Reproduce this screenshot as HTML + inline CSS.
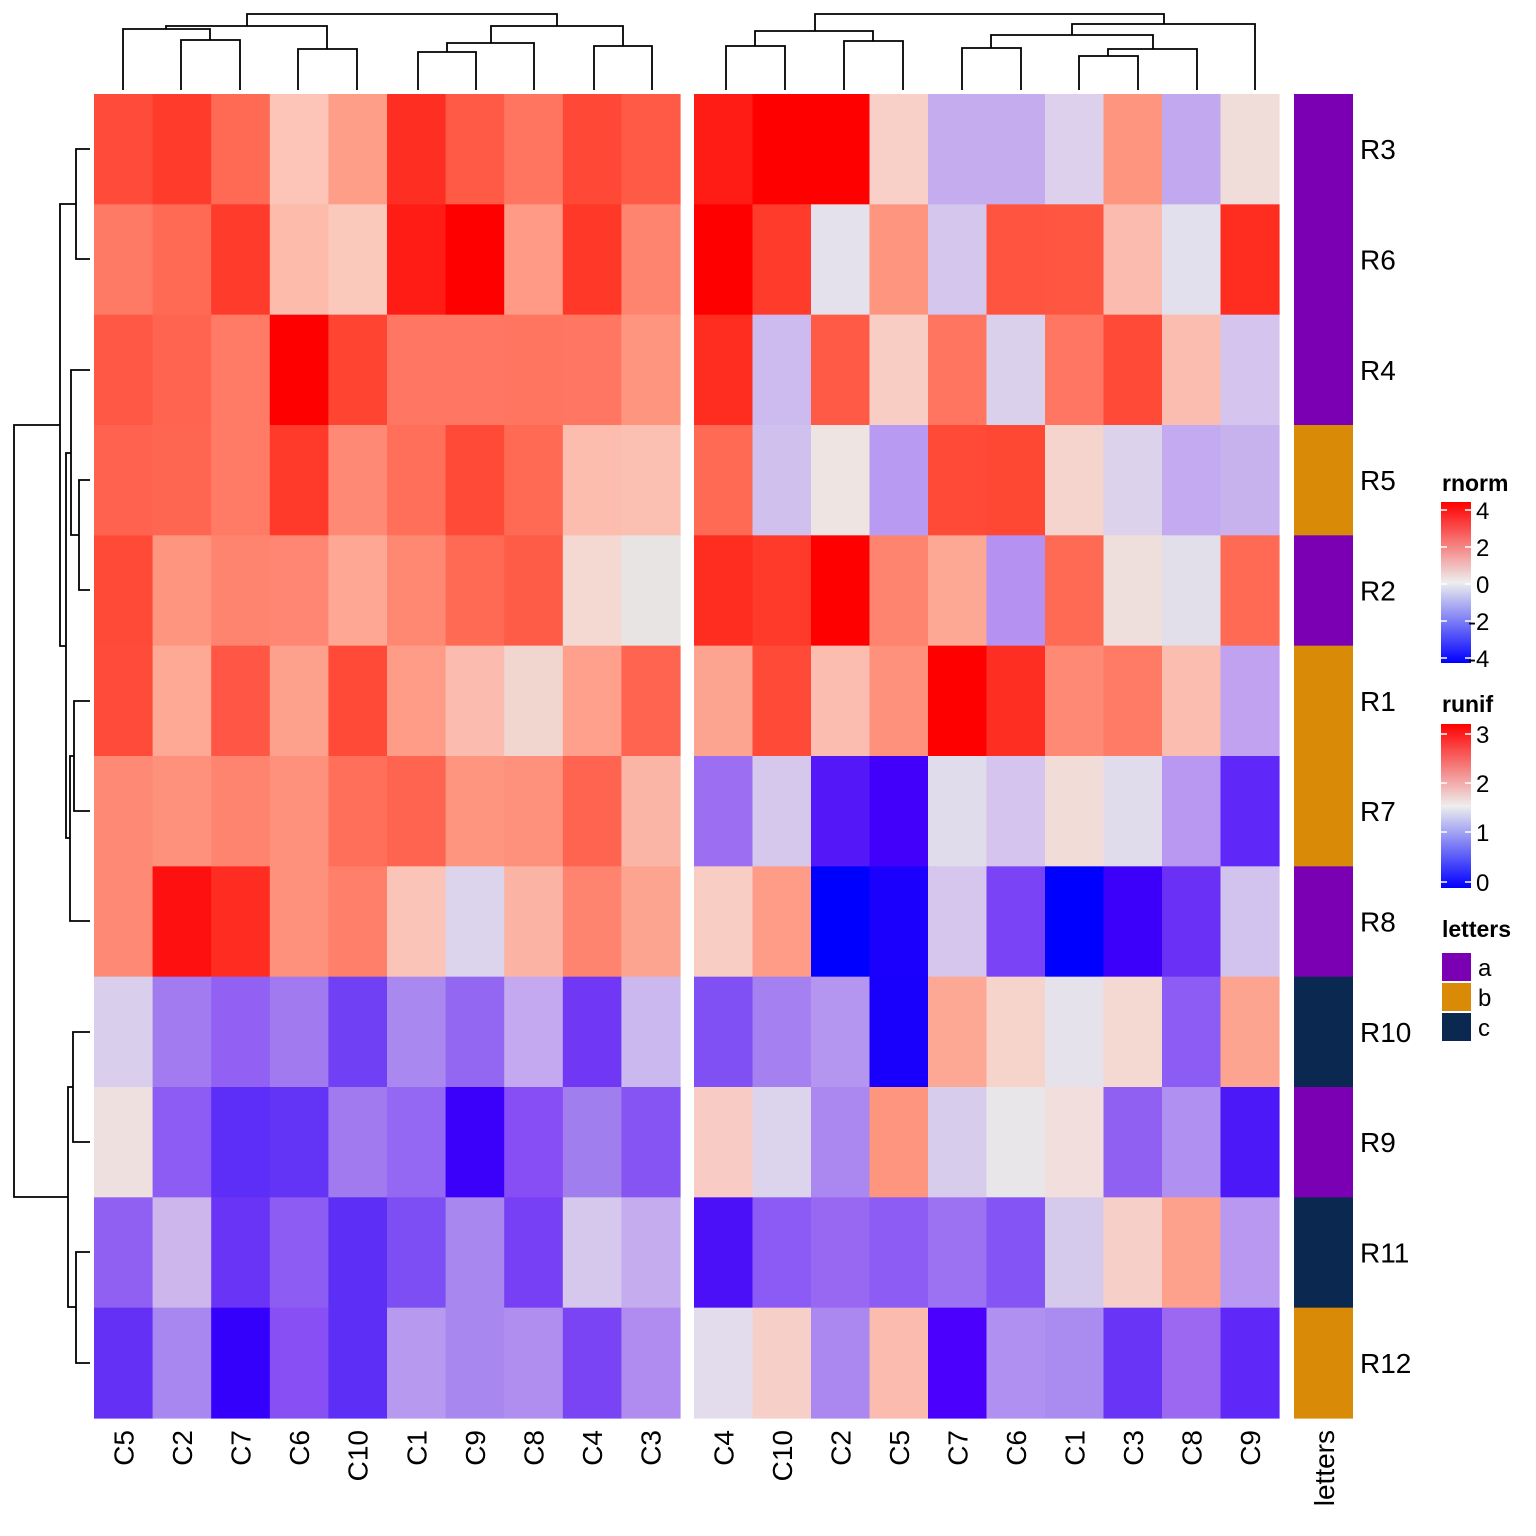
<!DOCTYPE html>
<html><head><meta charset="utf-8"><style>
body{margin:0;background:#fff}
svg{display:block;font-family:"Liberation Sans",Arial,sans-serif}
</style></head><body>
<svg id="s" width="1536" height="1536" viewBox="0 0 1536 1536" xmlns="http://www.w3.org/2000/svg">
<defs>
<linearGradient id="g1" x1="0" y1="0" x2="0" y2="1">
<stop offset="0" stop-color="#FF0000"/><stop offset="0.5" stop-color="#EEEEEE"/><stop offset="1" stop-color="#0000FF"/>
</linearGradient>
<linearGradient id="g2" x1="0" y1="0" x2="0" y2="1">
<stop offset="0" stop-color="#FF0000"/><stop offset="0.5" stop-color="#EEEEEE"/><stop offset="1" stop-color="#0000FF"/>
</linearGradient>
</defs>
<g id="cells"></g>
<g id="dend" stroke="#000" stroke-width="1.8" fill="none"></g>
<g id="txt" font-size="28" fill="#000"></g>
<text x="1442" y="491" font-size="23" font-weight="bold">rnorm</text>
<rect x="1441" y="502" width="30" height="161" fill="url(#g1)"/>
<g stroke="#fff" stroke-width="1.5">
<line x1="1441" y1="510" x2="1447" y2="510"/><line x1="1465" y1="510" x2="1471" y2="510"/>
<line x1="1441" y1="547" x2="1447" y2="547"/><line x1="1465" y1="547" x2="1471" y2="547"/>
<line x1="1441" y1="584" x2="1447" y2="584"/><line x1="1465" y1="584" x2="1471" y2="584"/>
<line x1="1441" y1="621" x2="1447" y2="621"/><line x1="1465" y1="621" x2="1471" y2="621"/>
<line x1="1441" y1="658" x2="1447" y2="658"/><line x1="1465" y1="658" x2="1471" y2="658"/>
</g>
<g font-size="24">
<text x="1476" y="519">4</text><text x="1476" y="556">2</text><text x="1476" y="593">0</text><text x="1468" y="630">-2</text><text x="1468" y="667">-4</text>
</g>
<text x="1442" y="712" font-size="23" font-weight="bold">runif</text>
<rect x="1441" y="724" width="30" height="164" fill="url(#g2)"/>
<g stroke="#fff" stroke-width="1.5">
<line x1="1441" y1="734" x2="1447" y2="734"/><line x1="1465" y1="734" x2="1471" y2="734"/>
<line x1="1441" y1="783" x2="1447" y2="783"/><line x1="1465" y1="783" x2="1471" y2="783"/>
<line x1="1441" y1="832" x2="1447" y2="832"/><line x1="1465" y1="832" x2="1471" y2="832"/>
<line x1="1441" y1="882" x2="1447" y2="882"/><line x1="1465" y1="882" x2="1471" y2="882"/>
</g>
<g font-size="24">
<text x="1476" y="743">3</text><text x="1476" y="792">2</text><text x="1476" y="841">1</text><text x="1476" y="891">0</text>
</g>
<text x="1442" y="937" font-size="23" font-weight="bold">letters</text>
<rect x="1442" y="953" width="29" height="28" fill="#7B00B4"/>
<rect x="1442" y="983" width="29" height="28" fill="#D98A07"/>
<rect x="1442" y="1013" width="29" height="28" fill="#0A2850"/>
<g font-size="24"><text x="1478" y="976">a</text><text x="1478" y="1006">b</text><text x="1478" y="1036">c</text></g>
</svg>
<script>
var L=[
"#FF4B3A #FF3B2C #FF6A55 #FDC4B8 #FE9D88 #FF2E22 #FF5A45 #FF7560 #FF4835 #FF5A45",
"#FF7A65 #FF6A55 #FF3B2C #FDBBAC #FBC8BC #FF1C14 #FF0000 #FE9A85 #FF3828 #FF8470",
"#FF5945 #FF6450 #FF7B66 #FF0000 #FF4532 #FF7762 #FF7762 #FF7560 #FF7762 #FE957F",
"#FF6350 #FF6652 #FF7B66 #FF3A2A #FE8A75 #FF6F5A #FF4A38 #FF6A55 #FCBCAE #FBC0B2",
"#FF4A38 #FE957F #FF8470 #FF8672 #FDA794 #FF8872 #FF6A55 #FF5C48 #F4D8D2 #E8E4E4",
"#FF4C3A #FDA996 #FF5645 #FDA08C #FF4A38 #FE9C88 #FBBBAE #F1D6D0 #FEA08C #FF6450",
"#FE8A76 #FE917C #FF8470 #FE917C #FF6F5A #FF6450 #FE957F #FE917C #FF6450 #FBB5A6",
"#FE8A76 #FF1010 #FF2C22 #FE917C #FF7F6A #FBC4B8 #DCD4EC #FBB3A4 #FF8470 #FDA490",
"#D9CFEC #A37BF0 #9260F2 #A07AEE #7040F4 #A988F0 #9467F2 #C4A8F0 #7038F4 #CBB8EE",
"#EEE0DE #8D5CF4 #5C2EF8 #6434F6 #A07AEE #9468F2 #3A00FA #864EF4 #A07EEE #8754F4",
"#9060F2 #CCB6EC #6A34F6 #8D5CF2 #5C2EF6 #7D4EF4 #A888EE #7840F4 #D6C8EC #C4ACEE",
"#6430F6 #A888F0 #3400FC #8850F4 #5C2EF6 #B79AF0 #A888EE #B08EF0 #7A44F4 #B08CF0"];
var R=[
"#FF1C14 #FF0000 #FF0000 #F8D0C8 #C4ACEE #C4ACEE #DCD0EC #FE957F #C2A8EE #F0DCD8",
"#FF0000 #FF3C2C #E4E0EC #FE957F #D4C6EC #FF5440 #FF5642 #FBBBAE #E2E0EC #FF2C20",
"#FF2C20 #CDBAEE #FF5A45 #F8CEC4 #FF7560 #DAD0EC #FF7762 #FF4A38 #FBBDB0 #D4C4EE",
"#FF6A55 #CFC0EE #EEE4E2 #B99AF2 #FF4A38 #FF4834 #F4D4CC #DCD2EC #C4AAF0 #C8B2EE",
"#FF2C20 #FF3A2A #FF0000 #FF8470 #FDA894 #B591F2 #FF6A55 #EEDEDC #E2DEEA #FF6A55",
"#FDA490 #FF4A38 #FBBDB0 #FE917C #FF0000 #FF2E22 #FE8A76 #FF7B66 #FBBDB0 #C0A2F0",
"#9C6EF2 #D6C8EC #5418F8 #4200FA #E0DCEC #D4C4EE #F2DCD8 #E0DCEC #B898F0 #6028F8",
"#F8CEC4 #FE9C88 #0000FF #1A00FC #D6C6EE #7A44F6 #0000FF #3C00FA #6A30F6 #D2C2EE",
"#8050F4 #A480F0 #B496F0 #1800FC #FDA894 #F6D4CC #E6E2EC #F4D8D2 #8C5CF4 #FDA490",
"#F8CCC4 #DCD4EC #AA88F0 #FE957F #D8CCEC #E8E6E8 #F2DEDC #9060F2 #B090F0 #4C18F8",
"#4C10F8 #8C5AF4 #9868F2 #8C5CF4 #9C72F2 #8454F4 #D6CAEC #F6D0C8 #FDA08C #B898F0",
"#E2DCEC #F6D0C8 #AA88F0 #FBBBAE #4A00FC #B090F0 #AA8CF0 #6A34F6 #9C68F2 #6028F8"];
var ann=["a","a","a","b","a","b","b","a","c","a","c","b"],ac={a:"#7B00B4",b:"#D98A07",c:"#0A2850"};
var rows=["R3","R6","R4","R5","R2","R1","R7","R8","R10","R9","R11","R12"];
var lc=["C5","C2","C7","C6","C10","C1","C9","C8","C4","C3"],rc=["C4","C10","C2","C5","C7","C6","C1","C3","C8","C9"];
var y0=94,h=(1418-94)/12,lx=94,lw=(680-94)/10,rx=694,rw=(1279-694)/10;
var s="",t="";
for(var i=0;i<12;i++){var y=y0+i*h;var a=L[i].split(" "),b=R[i].split(" ");
for(var j=0;j<10;j++){s+='<rect x="'+(lx+j*lw)+'" y="'+y+'" width="'+(lw+0.6)+'" height="'+(h+0.6)+'" fill="'+a[j]+'"/>';
s+='<rect x="'+(rx+j*rw)+'" y="'+y+'" width="'+(rw+0.6)+'" height="'+(h+0.6)+'" fill="'+b[j]+'"/>';}
s+='<rect x="1294" y="'+y+'" width="59" height="'+(h+0.6)+'" fill="'+ac[ann[i]]+'"/>';
t+='<text x="1360" y="'+(y+h/2+10)+'">'+rows[i]+'</text>';}
for(var j=0;j<10;j++){var cx=lx+(j+0.5)*lw+10;t+='<text transform="translate('+cx+',1430) rotate(-90)" text-anchor="end">'+lc[j]+'</text>';
cx=rx+(j+0.5)*rw+10;t+='<text transform="translate('+cx+',1430) rotate(-90)" text-anchor="end">'+rc[j]+'</text>';}
t+='<text transform="translate(1334,1430) rotate(-90)" text-anchor="end">letters</text>';
document.getElementById("cells").innerHTML=s;document.getElementById("txt").innerHTML=t;
function U(x1,x2,y,y1,y2){return 'M'+x1+' '+y1+'V'+y+'H'+x2+'V'+y2;}
function V(y1,y2,x,x1,x2){return 'M'+x1+' '+y1+'H'+x+'V'+y2+'H'+x2;}
var d="";
d+=U(181,240,40,90,90)+U(123,210,29,90,40)+U(298,357,49,90,90)+U(166,327,26,29,49)+U(418,476,52,90,90)+U(447,534,43,52,90)+U(594,652,46,90,90)+U(491,623,26,43,46)+U(247,557,14,26,26);
d+=U(726,785,46,90,90)+U(844,903,41,90,90)+U(755,873,31,46,41)+U(962,1021,48,90,90)+U(1079,1138,56,90,90)+U(1108,1197,49,56,90)+U(991,1153,35,48,49)+U(1072,1255,24,35,90)+U(815,1164,14,31,24);
d+=V(149,259,76,90,90)+V(480,590,79,90,90)+V(370,535,71,90,79)+V(701,811,74,90,90)+V(756,921,70,74,90)+V(453,838,66,71,70)+V(204,646,60,76,66)+V(1032,1142,73,90,90)+V(1252,1363,76,90,90)+V(1087,1307,68,73,76)+V(425,1197,14,60,68);
document.getElementById("dend").innerHTML='<path d="'+d+'"/>';
</script>
</body></html>
